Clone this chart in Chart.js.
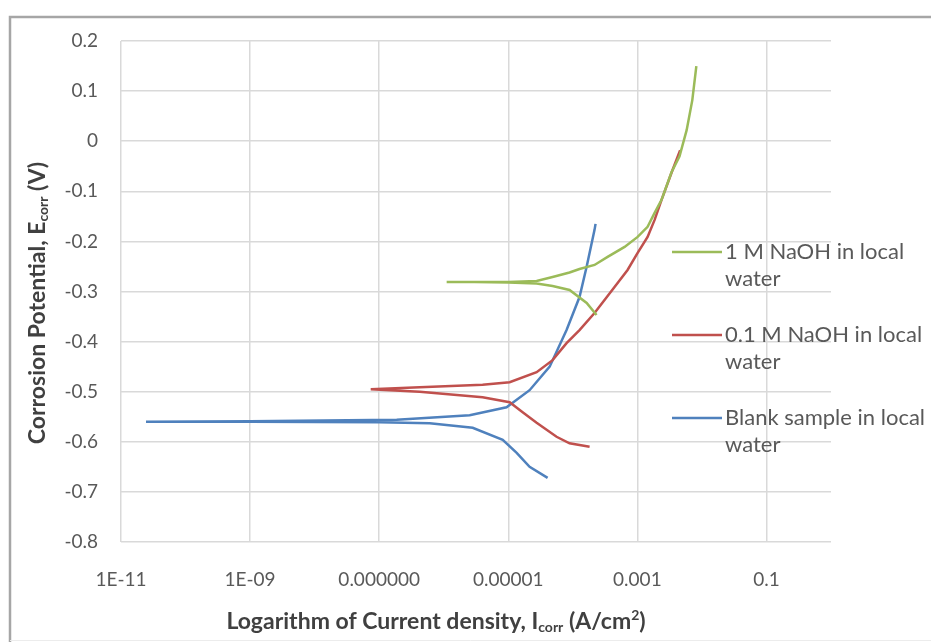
<!DOCTYPE html>
<html>
<head>
<meta charset="utf-8">
<script src="https://cdn.jsdelivr.net/npm/chart.js@4/dist/chart.umd.min.js"></script>
<style>
  html, body { margin: 0; padding: 0; background: #ffffff; }
  #wrap { width: 931px; height: 642px; position: relative; }
</style>
</head>
<body>
<div id="wrap"><canvas id="c" width="931" height="642"></canvas></div>
<script>
// ---------- DATA ----------
const seriesNames = ['1 M NaOH in local water', '0.1 M NaOH in local water', 'Blank sample in local water'];
const seriesColors = ['#9BBB59', '#C0504D', '#4F81BD'];

// 1 M NaOH in local water (cathodic end -> Ecorr -> anodic end)
const naoh1Current = [2.33e-4, 1.64e-4, 8.9e-5, 4.86e-5, 2.75e-5, 1.0e-5, 3.0e-6, 1.11e-6, 3.0e-6, 1.0e-5, 2.75e-5, 4.86e-5, 8.9e-5, 1.27e-4, 2.17e-4, 3.46e-4, 6.34e-4, 1.01e-3, 1.44e-3, 1.85e-3, 2.37e-3, 3.38e-3, 4.5e-3, 5.8e-3, 7.1e-3, 8.2e-3];
const naoh1Potential = [-0.347, -0.323, -0.297, -0.289, -0.284, -0.282, -0.281, -0.281, -0.281, -0.281, -0.279, -0.271, -0.262, -0.255, -0.247, -0.231, -0.211, -0.191, -0.171, -0.143, -0.117, -0.062, -0.030, 0.022, 0.082, 0.150];

// 0.1 M NaOH in local water
const naoh01Current = [1.82e-4, 8.9e-5, 5.6e-5, 2.75e-5, 1.67e-5, 1.05e-5, 4.0e-6, 4.25e-7, 7.4e-8, 4.25e-7, 4.0e-6, 1.05e-5, 2.75e-5, 4.86e-5, 8.0e-5, 1.27e-4, 2.17e-4, 4.43e-4, 7.05e-4, 1.01e-3, 1.44e-3, 1.85e-3, 2.37e-3, 3.38e-3, 4.6e-3];
const naoh01Potential = [-0.610, -0.603, -0.590, -0.562, -0.541, -0.521, -0.511, -0.500, -0.495, -0.491, -0.486, -0.481, -0.461, -0.437, -0.403, -0.377, -0.343, -0.291, -0.257, -0.223, -0.191, -0.157, -0.117, -0.063, -0.018];

// Blank sample in local water
const blankCurrent = [4.07e-5, 2.14e-5, 1.35e-5, 8.2e-6, 2.81e-6, 6.07e-7, 1.0e-7, 1.0e-9, 2.44e-11, 1.0e-9, 1.87e-7, 2.52e-6, 9.4e-6, 2.14e-5, 4.38e-5, 8.0e-5, 1.27e-4, 1.64e-4, 2.17e-4, 2.25e-4];
const blankPotential = [-0.672, -0.650, -0.622, -0.596, -0.572, -0.563, -0.561, -0.560, -0.560, -0.559, -0.556, -0.547, -0.531, -0.497, -0.450, -0.377, -0.311, -0.250, -0.177, -0.165];

// Axis ticks
const currentTicks = [1e-11, 1e-9, 1e-7, 1e-5, 1e-3, 1e-1, 1];
const currentTickLabels = ['1E-11', '1E-09', '0.000000', '0.00001', '0.001', '0.1', ''];
const potentialMin = -0.8, potentialMax = 0.2, potentialStep = 0.1;

// ---------- BUILD ----------
function pts(xs, ys) { return xs.map((x, i) => ({ x: x, y: ys[i] })); }
const seriesData = [
  pts(naoh1Current, naoh1Potential),
  pts(naoh01Current, naoh01Potential),
  pts(blankCurrent, blankPotential)
];

const FONT = 'Lato, "Open Sans", "DejaVu Sans", sans-serif';
const GRID = '#d9d9d9';
const TEXT = '#595959';

const framePlugin = {
  id: 'frame',
  beforeDraw(chart) {
    const ctx = chart.ctx;
    ctx.save();
    ctx.fillStyle = '#ffffff';
    ctx.fillRect(0, 0, chart.width, chart.height);
    ctx.strokeStyle = '#a6a6a6';
    ctx.lineWidth = 2.5;
    ctx.beginPath();
    ctx.moveTo(10, 642);
    ctx.lineTo(10, 17);
    ctx.lineTo(931, 17);
    ctx.stroke();
    ctx.strokeStyle = '#ececec';
    ctx.lineWidth = 1;
    ctx.beginPath();
    ctx.moveTo(10, 640.5);
    ctx.lineTo(931, 640.5);
    ctx.stroke();
    ctx.restore();
  }
};

function drawRich(ctx, parts, x, y, align) {
  let total = 0;
  parts.forEach(p => {
    ctx.font = (p.bold ? 'bold ' : '') + p.size + 'px ' + FONT;
    p.w = ctx.measureText(p.t).width;
    total += p.w;
  });
  let cx = align === 'center' ? x - total / 2 : x;
  parts.forEach(p => {
    ctx.font = (p.bold ? 'bold ' : '') + p.size + 'px ' + FONT;
    ctx.fillText(p.t, cx, y + (p.dy || 0));
    cx += p.w;
  });
}

const titlesPlugin = {
  id: 'titles',
  afterDraw(chart) {
    const ctx = chart.ctx;
    const area = chart.chartArea;
    ctx.save();
    ctx.fillStyle = '#404040';
    ctx.textBaseline = 'middle';
    ctx.textAlign = 'left';
    // X axis title
    drawRich(ctx, [
      { t: 'Logarithm of Current density, I', size: 23, bold: true },
      { t: 'corr', size: 14, bold: true, dy: 5 },
      { t: ' (A/cm', size: 23, bold: true },
      { t: '2', size: 14, bold: true, dy: -7 },
      { t: ')', size: 23, bold: true }
    ], 436, 622, 'center');
    // Y axis title
    ctx.translate(38, 303);
    ctx.rotate(-Math.PI / 2);
    drawRich(ctx, [
      { t: 'Corrosion Potential, E', size: 23, bold: true },
      { t: 'corr', size: 14, bold: true, dy: 5 },
      { t: ' (V)', size: 23, bold: true }
    ], 0, 0, 'center');
    ctx.restore();

    // Legend (drawn over the plot area, like the original)
    ctx.save();
    const x0 = area.right - 159, x1 = area.right - 109, tx = area.right - 106;
    const firstY = 252, stepY = 83, lineGap = 27;
    chart.data.datasets.forEach((ds, i) => {
      const y = firstY + i * stepY;
      ctx.strokeStyle = ds.borderColor;
      ctx.lineWidth = 2.5;
      ctx.beginPath();
      ctx.moveTo(x0, y);
      ctx.lineTo(x1, y);
      ctx.stroke();
      const words = seriesNames[i];
      const cut = words.lastIndexOf(' ');
      ctx.fillStyle = TEXT;
      ctx.font = '22px ' + FONT;
      ctx.textBaseline = 'middle';
      ctx.textAlign = 'left';
      ctx.fillText(words.slice(0, cut), tx, y);
      ctx.fillText(words.slice(cut + 1), tx, y + lineGap);
    });
    ctx.restore();
  }
};

new Chart(document.getElementById('c'), {
  type: 'scatter',
  data: {
    datasets: seriesData.map((d, i) => ({
      label: seriesNames[i],
      data: d,
      showLine: true,
      borderColor: seriesColors[i],
      backgroundColor: seriesColors[i],
      borderWidth: 2.5,
      pointRadius: 0,
      pointHoverRadius: 0,
      tension: 0,
      fill: false
    }))
  },
  options: {
    responsive: false,
    devicePixelRatio: 1,
    animation: false,
    events: [],
    layout: { padding: { left: 0, top: 41, right: 100, bottom: 0 } },
    plugins: {
      legend: { display: false },
      tooltip: { enabled: false },
      title: { display: false }
    },
    scales: {
      x: {
        type: 'logarithmic',
        min: currentTicks[0],
        max: currentTicks[currentTicks.length - 1],
        afterBuildTicks(axis) { axis.ticks = currentTicks.map(v => ({ value: v })); },
        afterFit(axis) { axis.height = 100; },
        border: { display: false },
        grid: {
          color: ctx => (ctx.index === currentTicks.length - 1 ? 'rgba(0,0,0,0)' : GRID),
          lineWidth: 1.5,
          drawTicks: false
        },
        ticks: {
          autoSkip: false,
          maxRotation: 0,
          padding: 26,
          color: TEXT,
          font: { family: FONT, size: 19 },
          callback: (v, i) => currentTickLabels[i]
        }
      },
      y: {
        type: 'linear',
        min: potentialMin,
        max: potentialMax,
        afterFit(axis) { axis.width = 121; },
        border: { display: false },
        grid: { color: GRID, lineWidth: 1.5, drawTicks: false },
        ticks: {
          stepSize: potentialStep,
          padding: 23,
          color: TEXT,
          font: { family: FONT, size: 19 },
          callback: v => { const r = Math.round(v * 10) / 10; return (r === 0 ? 0 : r).toString(); }
        }
      }
    }
  },
  plugins: [framePlugin, titlesPlugin]
});
</script>
</body>
</html>
